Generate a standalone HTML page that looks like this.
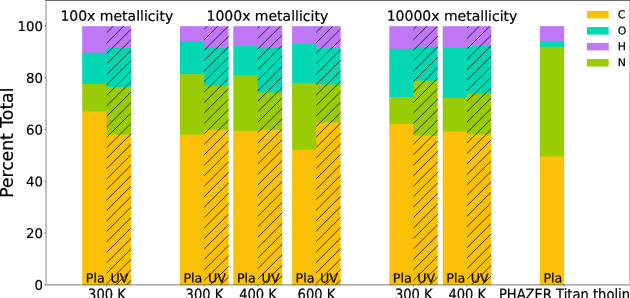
<!DOCTYPE html>
<html><head><meta charset="utf-8"><title>chart</title>
<style>
html,body{margin:0;padding:0;background:#fff;}
body{width:630px;height:298px;overflow:hidden;}
svg{display:block;}
text{font-family:"DejaVu Sans","Liberation Sans",sans-serif;fill:#000;stroke:#000;stroke-width:0.2px;}
</style></head><body>
<svg style="will-change:transform" width="630" height="298" viewBox="0 0 630 298">
<rect width="630" height="298" fill="#fff"/>

<rect x="82.20" y="26.20" width="25.50" height="27.10" fill="#bf77f6"/>
<rect x="82.20" y="52.80" width="25.50" height="31.60" fill="#04d8b2"/>
<rect x="82.20" y="83.90" width="25.50" height="28.10" fill="#99cc04"/>
<rect x="82.20" y="111.50" width="25.50" height="173.35" fill="#fbc109"/>
<rect x="106.70" y="26.20" width="24.30" height="21.60" fill="#bf77f6"/>
<rect x="106.70" y="47.30" width="24.30" height="40.40" fill="#04d8b2"/>
<rect x="106.70" y="87.20" width="24.30" height="47.90" fill="#99cc04"/>
<rect x="106.70" y="134.60" width="24.30" height="150.25" fill="#fbc109"/>
<rect x="179.90" y="26.20" width="25.30" height="15.80" fill="#bf77f6"/>
<rect x="179.90" y="41.50" width="25.30" height="33.20" fill="#04d8b2"/>
<rect x="179.90" y="74.20" width="25.30" height="60.90" fill="#99cc04"/>
<rect x="179.90" y="134.60" width="25.30" height="150.25" fill="#fbc109"/>
<rect x="204.20" y="26.20" width="24.40" height="22.10" fill="#bf77f6"/>
<rect x="204.20" y="47.80" width="24.40" height="38.40" fill="#04d8b2"/>
<rect x="204.20" y="85.70" width="24.40" height="44.90" fill="#99cc04"/>
<rect x="204.20" y="130.10" width="24.40" height="154.75" fill="#fbc109"/>
<rect x="233.30" y="26.20" width="25.50" height="20.40" fill="#bf77f6"/>
<rect x="233.30" y="46.10" width="25.50" height="29.80" fill="#04d8b2"/>
<rect x="233.30" y="75.40" width="25.50" height="56.20" fill="#99cc04"/>
<rect x="233.30" y="131.10" width="25.50" height="153.75" fill="#fbc109"/>
<rect x="257.80" y="26.20" width="24.40" height="22.10" fill="#bf77f6"/>
<rect x="257.80" y="47.80" width="24.40" height="45.20" fill="#04d8b2"/>
<rect x="257.80" y="92.50" width="24.40" height="38.10" fill="#99cc04"/>
<rect x="257.80" y="130.10" width="24.40" height="154.75" fill="#fbc109"/>
<rect x="292.10" y="26.20" width="25.10" height="17.40" fill="#bf77f6"/>
<rect x="292.10" y="43.10" width="25.10" height="40.30" fill="#04d8b2"/>
<rect x="292.10" y="82.90" width="25.10" height="67.30" fill="#99cc04"/>
<rect x="292.10" y="149.70" width="25.10" height="135.15" fill="#fbc109"/>
<rect x="316.20" y="26.20" width="24.40" height="22.40" fill="#bf77f6"/>
<rect x="316.20" y="48.10" width="24.40" height="36.80" fill="#04d8b2"/>
<rect x="316.20" y="84.40" width="24.40" height="38.70" fill="#99cc04"/>
<rect x="316.20" y="122.60" width="24.40" height="162.25" fill="#fbc109"/>
<rect x="389.30" y="26.20" width="25.20" height="23.10" fill="#bf77f6"/>
<rect x="389.30" y="48.80" width="25.20" height="48.90" fill="#04d8b2"/>
<rect x="389.30" y="97.20" width="25.20" height="27.20" fill="#99cc04"/>
<rect x="389.30" y="123.90" width="25.20" height="160.95" fill="#fbc109"/>
<rect x="413.50" y="26.20" width="24.20" height="21.10" fill="#bf77f6"/>
<rect x="413.50" y="46.80" width="24.20" height="34.40" fill="#04d8b2"/>
<rect x="413.50" y="80.70" width="24.20" height="55.40" fill="#99cc04"/>
<rect x="413.50" y="135.60" width="24.20" height="149.25" fill="#fbc109"/>
<rect x="442.70" y="26.20" width="25.30" height="21.60" fill="#bf77f6"/>
<rect x="442.70" y="47.30" width="25.30" height="51.00" fill="#04d8b2"/>
<rect x="442.70" y="97.80" width="25.30" height="34.30" fill="#99cc04"/>
<rect x="442.70" y="131.60" width="25.30" height="153.25" fill="#fbc109"/>
<rect x="467.00" y="26.20" width="24.10" height="20.40" fill="#bf77f6"/>
<rect x="467.00" y="46.10" width="24.10" height="48.00" fill="#04d8b2"/>
<rect x="467.00" y="93.60" width="24.10" height="41.50" fill="#99cc04"/>
<rect x="467.00" y="134.60" width="24.10" height="150.25" fill="#fbc109"/>
<rect x="539.80" y="26.20" width="24.40" height="15.20" fill="#bf77f6"/>
<rect x="539.80" y="40.90" width="24.40" height="6.40" fill="#04d8b2"/>
<rect x="539.80" y="46.80" width="24.40" height="110.20" fill="#99cc04"/>
<rect x="539.80" y="156.50" width="24.40" height="128.35" fill="#fbc109"/>
<clipPath id="uv">
<rect x="106.70" y="26.20" width="24.30" height="258.65"/>
<rect x="204.20" y="26.20" width="24.40" height="258.65"/>
<rect x="257.80" y="26.20" width="24.40" height="258.65"/>
<rect x="316.20" y="26.20" width="24.40" height="258.65"/>
<rect x="413.50" y="26.20" width="24.20" height="258.65"/>
<rect x="467.00" y="26.20" width="24.10" height="258.65"/>
</clipPath>
<path clip-path="url(#uv)" d="M105.70,23.22 L132.00,-3.08 M105.70,33.68 L132.00,7.38 M105.70,44.14 L132.00,17.84 M105.70,54.60 L132.00,28.30 M105.70,65.06 L132.00,38.76 M105.70,75.52 L132.00,49.22 M105.70,85.98 L132.00,59.68 M105.70,96.44 L132.00,70.14 M105.70,106.90 L132.00,80.60 M105.70,117.36 L132.00,91.06 M105.70,127.82 L132.00,101.52 M105.70,138.28 L132.00,111.98 M105.70,148.74 L132.00,122.44 M105.70,159.20 L132.00,132.90 M105.70,169.66 L132.00,143.36 M105.70,180.12 L132.00,153.82 M105.70,190.58 L132.00,164.28 M105.70,201.04 L132.00,174.74 M105.70,211.50 L132.00,185.20 M105.70,221.96 L132.00,195.66 M105.70,232.42 L132.00,206.12 M105.70,242.88 L132.00,216.58 M105.70,253.34 L132.00,227.04 M105.70,263.80 L132.00,237.50 M105.70,274.26 L132.00,247.96 M105.70,284.72 L132.00,258.42 M105.70,295.18 L132.00,268.88 M105.70,305.64 L132.00,279.34 M105.70,316.10 L132.00,289.80 M203.20,19.86 L229.60,-6.54 M203.20,30.32 L229.60,3.92 M203.20,40.78 L229.60,14.38 M203.20,51.24 L229.60,24.84 M203.20,61.70 L229.60,35.30 M203.20,72.16 L229.60,45.76 M203.20,82.62 L229.60,56.22 M203.20,93.08 L229.60,66.68 M203.20,103.54 L229.60,77.14 M203.20,114.00 L229.60,87.60 M203.20,124.46 L229.60,98.06 M203.20,134.92 L229.60,108.52 M203.20,145.38 L229.60,118.98 M203.20,155.84 L229.60,129.44 M203.20,166.30 L229.60,139.90 M203.20,176.76 L229.60,150.36 M203.20,187.22 L229.60,160.82 M203.20,197.68 L229.60,171.28 M203.20,208.14 L229.60,181.74 M203.20,218.60 L229.60,192.20 M203.20,229.06 L229.60,202.66 M203.20,239.52 L229.60,213.12 M203.20,249.98 L229.60,223.58 M203.20,260.44 L229.60,234.04 M203.20,270.90 L229.60,244.50 M203.20,281.36 L229.60,254.96 M203.20,291.82 L229.60,265.42 M203.20,302.28 L229.60,275.88 M203.20,312.74 L229.60,286.34 M256.80,18.56 L283.20,-7.84 M256.80,29.02 L283.20,2.62 M256.80,39.48 L283.20,13.08 M256.80,49.94 L283.20,23.54 M256.80,60.40 L283.20,34.00 M256.80,70.86 L283.20,44.46 M256.80,81.32 L283.20,54.92 M256.80,91.78 L283.20,65.38 M256.80,102.24 L283.20,75.84 M256.80,112.70 L283.20,86.30 M256.80,123.16 L283.20,96.76 M256.80,133.62 L283.20,107.22 M256.80,144.08 L283.20,117.68 M256.80,154.54 L283.20,128.14 M256.80,165.00 L283.20,138.60 M256.80,175.46 L283.20,149.06 M256.80,185.92 L283.20,159.52 M256.80,196.38 L283.20,169.98 M256.80,206.84 L283.20,180.44 M256.80,217.30 L283.20,190.90 M256.80,227.76 L283.20,201.36 M256.80,238.22 L283.20,211.82 M256.80,248.68 L283.20,222.28 M256.80,259.14 L283.20,232.74 M256.80,269.60 L283.20,243.20 M256.80,280.06 L283.20,253.66 M256.80,290.52 L283.20,264.12 M256.80,300.98 L283.20,274.58 M256.80,311.44 L283.20,285.04 M315.20,22.92 L341.60,-3.48 M315.20,33.38 L341.60,6.98 M315.20,43.84 L341.60,17.44 M315.20,54.30 L341.60,27.90 M315.20,64.76 L341.60,38.36 M315.20,75.22 L341.60,48.82 M315.20,85.68 L341.60,59.28 M315.20,96.14 L341.60,69.74 M315.20,106.60 L341.60,80.20 M315.20,117.06 L341.60,90.66 M315.20,127.52 L341.60,101.12 M315.20,137.98 L341.60,111.58 M315.20,148.44 L341.60,122.04 M315.20,158.90 L341.60,132.50 M315.20,169.36 L341.60,142.96 M315.20,179.82 L341.60,153.42 M315.20,190.28 L341.60,163.88 M315.20,200.74 L341.60,174.34 M315.20,211.20 L341.60,184.80 M315.20,221.66 L341.60,195.26 M315.20,232.12 L341.60,205.72 M315.20,242.58 L341.60,216.18 M315.20,253.04 L341.60,226.64 M315.20,263.50 L341.60,237.10 M315.20,273.96 L341.60,247.56 M315.20,284.42 L341.60,258.02 M315.20,294.88 L341.60,268.48 M315.20,305.34 L341.60,278.94 M315.20,315.80 L341.60,289.40 M412.50,19.76 L438.70,-6.44 M412.50,30.22 L438.70,4.02 M412.50,40.68 L438.70,14.48 M412.50,51.14 L438.70,24.94 M412.50,61.60 L438.70,35.40 M412.50,72.06 L438.70,45.86 M412.50,82.52 L438.70,56.32 M412.50,92.98 L438.70,66.78 M412.50,103.44 L438.70,77.24 M412.50,113.90 L438.70,87.70 M412.50,124.36 L438.70,98.16 M412.50,134.82 L438.70,108.62 M412.50,145.28 L438.70,119.08 M412.50,155.74 L438.70,129.54 M412.50,166.20 L438.70,140.00 M412.50,176.66 L438.70,150.46 M412.50,187.12 L438.70,160.92 M412.50,197.58 L438.70,171.38 M412.50,208.04 L438.70,181.84 M412.50,218.50 L438.70,192.30 M412.50,228.96 L438.70,202.76 M412.50,239.42 L438.70,213.22 M412.50,249.88 L438.70,223.68 M412.50,260.34 L438.70,234.14 M412.50,270.80 L438.70,244.60 M412.50,281.26 L438.70,255.06 M412.50,291.72 L438.70,265.52 M412.50,302.18 L438.70,275.98 M412.50,312.64 L438.70,286.44 M466.00,18.56 L492.10,-7.54 M466.00,29.02 L492.10,2.92 M466.00,39.48 L492.10,13.38 M466.00,49.94 L492.10,23.84 M466.00,60.40 L492.10,34.30 M466.00,70.86 L492.10,44.76 M466.00,81.32 L492.10,55.22 M466.00,91.78 L492.10,65.68 M466.00,102.24 L492.10,76.14 M466.00,112.70 L492.10,86.60 M466.00,123.16 L492.10,97.06 M466.00,133.62 L492.10,107.52 M466.00,144.08 L492.10,117.98 M466.00,154.54 L492.10,128.44 M466.00,165.00 L492.10,138.90 M466.00,175.46 L492.10,149.36 M466.00,185.92 L492.10,159.82 M466.00,196.38 L492.10,170.28 M466.00,206.84 L492.10,180.74 M466.00,217.30 L492.10,191.20 M466.00,227.76 L492.10,201.66 M466.00,238.22 L492.10,212.12 M466.00,248.68 L492.10,222.58 M466.00,259.14 L492.10,233.04 M466.00,269.60 L492.10,243.50 M466.00,280.06 L492.10,253.96 M466.00,290.52 L492.10,264.42 M466.00,300.98 L492.10,274.88 M466.00,311.44 L492.10,285.34" stroke="#000" stroke-opacity="0.9" stroke-width="0.85" fill="none"/>
<g stroke="#000" stroke-opacity="0.3" stroke-width="1.6" fill="none">
<line x1="46.05" y1="0.8" x2="46.05" y2="284.05"/>
<line x1="45.25" y1="284.85" x2="630" y2="284.85"/>
</g>
<rect x="45.25" y="0" width="584.75" height="1" fill="#6c6c6c"/>
<rect x="629.3" y="0.8" width="0.7" height="283.25" fill="#000" fill-opacity="0.3"/>
<g stroke="#444" stroke-width="0.7">
<line x1="44.4" y1="284.65" x2="46" y2="284.65"/>
<line x1="44.4" y1="232.92" x2="46" y2="232.92"/>
<line x1="44.4" y1="181.19" x2="46" y2="181.19"/>
<line x1="44.4" y1="129.46" x2="46" y2="129.46"/>
<line x1="44.4" y1="77.73" x2="46" y2="77.73"/>
<line x1="44.4" y1="26.00" x2="46" y2="26.00"/>
<line x1="106.60" y1="284.9" x2="106.60" y2="286.4"/>
<line x1="204.10" y1="284.9" x2="204.10" y2="286.4"/>
<line x1="257.70" y1="284.9" x2="257.70" y2="286.4"/>
<line x1="316.10" y1="284.9" x2="316.10" y2="286.4"/>
<line x1="413.40" y1="284.9" x2="413.40" y2="286.4"/>
<line x1="466.90" y1="284.9" x2="466.90" y2="286.4"/>
<line x1="564.10" y1="284.9" x2="564.10" y2="286.4"/>
</g>
<text transform="translate(43.00,289.70) rotate(0.05)" font-size="13.3" text-anchor="end">0</text>
<text transform="translate(43.00,237.97) rotate(0.05)" font-size="13.3" text-anchor="end">20</text>
<text transform="translate(43.00,186.24) rotate(0.05)" font-size="13.3" text-anchor="end">40</text>
<text transform="translate(43.00,134.51) rotate(0.05)" font-size="13.3" text-anchor="end">60</text>
<text transform="translate(43.00,82.78) rotate(0.05)" font-size="13.3" text-anchor="end">80</text>
<text transform="translate(43.00,31.05) rotate(0.05)" font-size="13.3" text-anchor="end">100</text>
<text transform="translate(106.95,299.20) rotate(0.05) scale(1,1.11)" font-size="13.1" text-anchor="middle">300 K</text>
<text transform="translate(204.45,299.20) rotate(0.05) scale(1,1.11)" font-size="13.1" text-anchor="middle">300 K</text>
<text transform="translate(258.05,299.20) rotate(0.05) scale(1,1.11)" font-size="13.1" text-anchor="middle">400 K</text>
<text transform="translate(316.45,299.20) rotate(0.05) scale(1,1.11)" font-size="13.1" text-anchor="middle">600 K</text>
<text transform="translate(413.75,299.20) rotate(0.05) scale(1,1.11)" font-size="13.1" text-anchor="middle">300 K</text>
<text transform="translate(467.25,299.20) rotate(0.05) scale(1,1.11)" font-size="13.1" text-anchor="middle">400 K</text>
<text transform="translate(564.45,299.20) rotate(0.05) scale(1,1.11)" font-size="13.1" text-anchor="middle">PHAZER Titan tholin</text>
<text transform="translate(95.30,282.40) rotate(0.05)" font-size="12.7" text-anchor="middle">Pla</text>
<text transform="translate(119.45,282.40) rotate(0.05)" font-size="12.7" text-anchor="middle">UV</text>
<text transform="translate(192.90,282.40) rotate(0.05)" font-size="12.7" text-anchor="middle">Pla</text>
<text transform="translate(217.00,282.40) rotate(0.05)" font-size="12.7" text-anchor="middle">UV</text>
<text transform="translate(246.40,282.40) rotate(0.05)" font-size="12.7" text-anchor="middle">Pla</text>
<text transform="translate(270.60,282.40) rotate(0.05)" font-size="12.7" text-anchor="middle">UV</text>
<text transform="translate(305.00,282.40) rotate(0.05)" font-size="12.7" text-anchor="middle">Pla</text>
<text transform="translate(329.00,282.40) rotate(0.05)" font-size="12.7" text-anchor="middle">UV</text>
<text transform="translate(402.25,282.40) rotate(0.05)" font-size="12.7" text-anchor="middle">Pla</text>
<text transform="translate(426.20,282.40) rotate(0.05)" font-size="12.7" text-anchor="middle">UV</text>
<text transform="translate(455.70,282.40) rotate(0.05)" font-size="12.7" text-anchor="middle">Pla</text>
<text transform="translate(479.65,282.40) rotate(0.05)" font-size="12.7" text-anchor="middle">UV</text>
<text transform="translate(552.85,282.40) rotate(0.05)" font-size="12.7" text-anchor="middle">Pla</text>
<text transform="translate(60.40,20.80) rotate(0.05)" font-size="14">100x metallicity</text>
<text transform="translate(206.50,20.80) rotate(0.05)" font-size="14">1000x metallicity</text>
<text transform="translate(386.70,20.80) rotate(0.05)" font-size="14">10000x metallicity</text>
<text transform="translate(12.7,142.7) rotate(-90)" font-size="17.2" text-anchor="middle">Percent Total</text>
<rect x="586.9" y="10.90" width="21.8" height="7.5" fill="#fbc109"/>
<text transform="translate(617.70,18.20) rotate(0.05)" font-size="10.9">C</text>
<rect x="586.9" y="27.10" width="21.8" height="7.5" fill="#04d8b2"/>
<text transform="translate(617.70,34.40) rotate(0.05)" font-size="10.9">O</text>
<rect x="586.9" y="42.90" width="21.8" height="7.5" fill="#bf77f6"/>
<text transform="translate(617.70,50.20) rotate(0.05)" font-size="10.9">H</text>
<rect x="586.9" y="59.00" width="21.8" height="7.5" fill="#99cc04"/>
<text transform="translate(617.70,66.30) rotate(0.05)" font-size="10.9">N</text>
</svg></body></html>
